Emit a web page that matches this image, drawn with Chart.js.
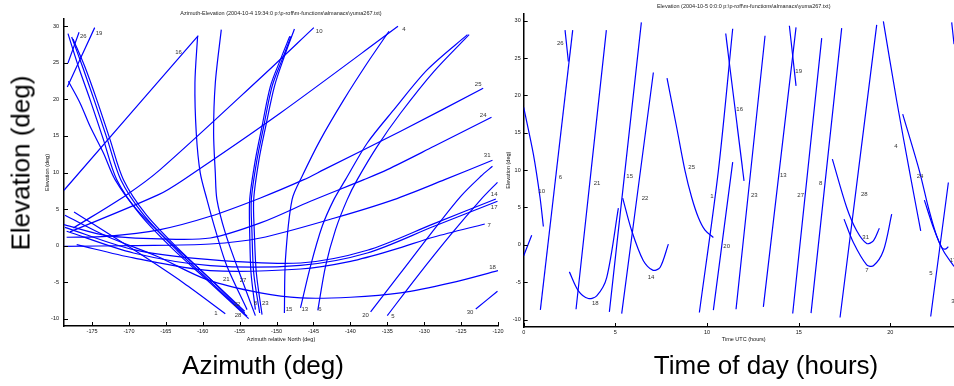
<!DOCTYPE html>
<html>
<head>
<meta charset="utf-8">
<title>Azimuth-Elevation / Elevation</title>
<script src="https://cdn.jsdelivr.net/npm/chart.js@4.4.1/dist/chart.umd.min.js"></script>
<style>
  html, body { margin: 0; padding: 0; background: #fff; }
  body { width: 954px; height: 386px; overflow: hidden; position: relative; font-family: "Liberation Sans", Arial, sans-serif; }
  .panel { position: absolute; top: 0; height: 386px; }
  #left { left: 0; width: 520px; }
  #right { left: 480px; width: 500px; }
  .big { position: absolute; font-size: 26px; color: #000; white-space: nowrap; transform: translate(-50%, -50%); }
  #bigEl { left: 21px; top: 163px; transform: translate(-50%, -50%) rotate(-90deg); }
  #bigAz { left: 263px; top: 365px; }
  #bigTime { left: 766px; top: 365px; }
</style>
</head>
<body>
<div id="left" class="panel"><canvas id="azel"></canvas></div>
<div id="right" class="panel"><canvas id="elev"></canvas></div>
<div class="big" id="bigEl">Elevation (deg)</div>
<div class="big" id="bigAz">Azimuth (deg)</div>
<div class="big" id="bigTime">Time of day (hours)</div>

<script>
/* ============================================================
   Satellite tracks - azimuth/elevation and elevation vs time
   ============================================================ */

// ---- left panel: azimuth (deg) / elevation (deg) per track ----
const azTicks = [-175, -170, -165, -160, -155, -150, -145, -140, -135, -130, -125, -120];
const elTicks = [-10, -5, 0, 5, 10, 15, 20, 25, 30];

const trackAz = [
  [-178.35, -174.64],                                                                   // 19
  [-178.26, -176.76],                                                                   // 26
  [-178.8, -160.61],                                                                    // 16
  [-177.53, -170.29, -165.77, -152.19, -144.95],                                        // 10
  [-177.99, -165.99, -162.60, -149.48, -133.55],                                        // 4
  [-178.44, -173.01, -165.77, -158.98, -152.19, -146.31, -143.60, -133.19, -122.01],    // 25
  [-178.8, -173.01, -165.77, -158.98, -152.19, -145.41, -138.17, -135.00, -128.67, -120.88], // 24
  [-178.8, -169.39, -158.98, -152.19, -142.24, -134.10, -127.22, -120.75],              // 31
  [-178.67, -169.39, -158.98, -146.76, -137.71, -128.67, -120.29],                      // 14
  [-178.44, -169.39, -158.98, -146.76, -137.71, -128.67, -120.07],                      // 17
  [-177.08, -169.39, -158.98, -146.76, -139.98, -134.10, -128.67, -121.79],             // 7
  [-178.67, -173.01, -166.22, -159.43, -152.19, -146.76, -139.98, -133.19, -126.40, -120.0], // 18
  [-123.01, -120.07],                                                                   // 30
  [-177.44, -169.39, -162.60, -156.95],                                                 // 1
  [-178.26, -176.86, -175.27, -173.46, -171.65, -168.48, -163.96, -158.98, -153.78],    // 28
  [-177.76, -176.31, -174.73, -172.92, -171.11, -168.03, -163.51, -158.53, -154.0],
  [-177.58, -176.0, -174.37, -172.56, -170.75, -167.67, -163.28, -158.53, -154.32],
  [-178.21, -176.63, -175.27, -173.46, -171.88, -168.94, -164.86, -160.34, -154.32],    // 22
  [-160.70, -161.06, -160.88, -160.34, -159.43, -158.17, -156.72, -154.0],              // 21
  [-157.49, -158.30, -158.53, -158.30, -158.08, -156.95, -155.36, -152.87],             // 27
  [-148.21, -149.48, -150.84, -151.97, -152.87, -153.64, -153.64, -153.46, -152.87],    // 8
  [-148.03, -149.25, -150.61, -151.74, -152.65, -153.42, -153.33, -153.10, -152.29],
  [-147.58, -148.94, -150.29, -151.47, -152.38, -153.10, -153.01, -152.74, -151.97],    // 23
  [-148.94, -148.80, -147.90, -146.54, -144.05, -140.88, -137.71, -134.77],             // 15
  [-146.76, -145.41, -143.82, -142.24, -140.66, -137.71, -134.10, -129.57, -124.14],    // 13
  [-144.41, -143.37, -142.01, -140.43, -139.07, -136.36, -133.19, -128.67, -123.91],    // 6
  [-137.26, -133.19, -128.67, -125.05, -122.33, -120.75],                               // 20
  [-135.0, -130.93, -126.40, -122.33, -120.07]                                          // 5
];
const trackEl = [
  [21.70, 29.82],
  [24.98, 29.18],
  [7.57, 28.72],
  [2.41, 6.97, 10.39, 22.93, 29.82],
  [1.87, 6.97, 9.02, 18.14, 30.0],
  [1.14, 1.27, 2.19, 4.01, 6.52, 9.02, 10.39, 15.64, 21.52],
  [2.87, 1.36, 0.91, 1.04, 3.10, 6.06, 9.02, 10.39, 13.58, 17.55],
  [-0.10, 0.0, 0.22, 1.04, 3.74, 6.29, 9.02, 11.67],
  [2.50, -0.55, -1.92, -2.38, -0.64, 3.01, 6.38],
  [1.96, -1.01, -2.74, -2.70, -1.01, 2.64, 6.06],
  [0.13, -1.69, -3.42, -3.20, -2.15, -0.55, 1.18, 2.96],
  [4.15, 1.27, -1.46, -4.66, -6.48, -7.16, -7.07, -6.48, -5.11, -3.42],
  [-8.67, -6.25],
  [4.60, -0.55, -5.11, -9.31],
  [29.0, 24.53, 19.97, 14.50, 9.02, 4.24, -0.55, -5.11, -9.99],
  [28.54, 24.53, 19.97, 14.50, 9.02, 4.24, -0.64, -5.34, -9.67],
  [28.27, 24.53, 19.97, 14.50, 9.02, 4.24, -0.46, -5.02, -9.22],
  [22.48, 19.51, 16.32, 12.67, 9.02, 4.92, 0.82, -3.29, -8.99],
  [28.63, 22.25, 15.41, 9.94, 6.29, 1.73, -2.83, -8.76],
  [29.54, 22.25, 15.41, 9.94, 6.29, 1.73, -2.83, -9.58],
  [28.63, 25.44, 21.79, 16.32, 11.76, 6.29, 1.73, -3.74, -8.76],
  [28.63, 25.44, 21.79, 16.32, 11.76, 6.29, 1.73, -3.74, -9.22],
  [29.64, 25.90, 21.79, 16.32, 11.76, 6.29, 1.73, -3.74, -9.44],
  [-9.22, -1.92, 6.29, 9.48, 14.50, 19.97, 24.98, 29.32],
  [-8.53, -2.83, 2.64, 6.29, 9.02, 14.04, 18.60, 24.07, 28.86],
  [-8.85, -2.83, 2.19, 6.29, 9.02, 13.58, 18.14, 23.84, 28.86],
  [-9.08, -3.74, 2.19, 6.74, 9.48, 10.85],
  [-9.58, -4.20, 1.50, 6.29, 8.66]
];

// satellite numbers written next to the left tracks
const azLabelText = ['19', '26', '16', '10', '4', '25', '24', '31', '14', '17', '7', '18', '30',
  '1', '28', '22', '21', '27', '8', '23', '15', '13', '6', '20', '5'];
const azLabelX = [-174.05, -176.18, -163.28, -144.23, -132.74, -122.69, -122.01, -121.47, -120.52, -120.52, -121.20, -120.75, -123.78,
  -158.21, -155.23, -155.36, -156.82, -154.55, -152.87, -151.52, -148.30, -146.18, -144.14, -137.94, -134.23];
const azLabelY = [29.04, 28.59, 26.44, 29.27, 29.54, 22.02, 17.78, 12.31, 6.97, 5.28, 2.78, -2.97, -9.12,
  -9.31, -9.58, -8.08, -4.66, -4.75, -7.94, -7.94, -8.76, -8.76, -8.76, -9.58, -9.67];

// ---- right panel: time UTC (hours) / elevation (deg) per pass ----
const hourTicks = [0, 5, 10, 15, 20];

const passT = [
  [0, 0.436],
  [0, 0.527, 0.891, 1.073],                          // 10
  [0.909, 2.673],                                    // 6
  [2.255, 2.436],                                    // 26
  [2.855, 4.509],                                    // 21
  [2.491, 2.982, 3.527, 3.982, 4.527, 5.164],        // 18
  [4.673, 6.418],                                    // 15
  [5.345, 7.073],                                    // 22
  [5.4, 5.891, 6.527, 7.036, 7.436, 7.891],          // 14
  [7.818, 8.345, 8.8, 9.164, 9.527, 9.891, 10.345],  // 25
  [9.582, 10.618, 11.4],                             // 1
  [10.345, 11.4],                                    // 20
  [11.018, 12.018],                                  // 16
  [11.582, 13.164],                                  // 23
  [13.073, 14.855],                                  // 13
  [14.491, 14.855],                                  // 19
  [14.673, 16.255],                                  // 27
  [15.673, 17.345],                                  // 8
  [17.255, 19.255],                                  // 28
  [16.836, 17.618, 18.164, 18.709, 19.073, 19.4],    // 31
  [17.473, 17.982, 18.709, 19.073, 19.618, 20.073],  // 7
  [19.618, 20.345, 21.073, 21.655],                  // 4
  [20.673, 21.582, 22.073, 22.491, 22.8, 22.982, 23.164], // 24
  [21.855, 22.345, 22.891, 23.473],                  // 17
  [22.2, 23.164],                                    // 5
  [23.345, 23.473]
];
const passEl = [
  [-1.47, 1.29],
  [18.39, 12.14, 6.34, 2.46],
  [-8.71, 28.75],
  [28.75, 24.55],
  [-8.62, 28.75],
  [-3.62, -6.16, -7.19, -6.83, -4.38, 4.91],
  [-8.97, 29.78],
  [-9.20, 23.08],
  [6.25, 1.88, -2.14, -3.39, -3.04, 0.09],
  [22.32, 15.71, 9.91, 6.34, 3.66, 1.96, 0.98],
  [-9.06, 9.91, 28.93],
  [-8.75, 11.07],
  [28.30, 8.57],
  [-8.62, 27.99],
  [-8.30, 29.11],
  [29.33, 21.29],
  [-9.2, 27.68],
  [-9.15, 29.02],
  [-9.73, 29.46],
  [11.47, 5.0, 1.88, 0.18, 0.54, 2.23],
  [3.44, 0.31, -2.68, -2.81, -0.80, 4.11],
  [29.91, 19.29, 9.46, 1.88],
  [17.5, 9.91, 5.0, 1.43, -0.36, -0.58, -0.27],
  [5.98, 2.32, -0.80, -2.90],
  [-9.6, 8.35],
  [29.78, 26.88]
];

const timeLabelText = ['10', '6', '26', '21', '18', '15', '22', '14', '25', '1', '20', '16', '23',
  '19', '13', '27', '8', '28', '31', '7', '4', '24', '5', '17', '30'];
const timeLabelX = [0.982, 2.0, 2.0, 4.0, 3.909, 5.782, 6.618, 6.945, 9.164, 10.273, 11.073, 11.782, 12.582,
  15.0, 14.164, 15.109, 16.2, 18.582, 18.655, 18.727, 20.309, 21.618, 22.218, 23.42, 23.5];
const timeLabelY = [7.1, 8.97, 26.96, 8.21, -7.86, 9.15, 6.29, -4.38, 10.36, 6.43, -0.22, 18.08, 6.56,
  23.21, 9.24, 6.56, 8.21, 6.70, 0.94, -3.39, 13.17, 9.15, -3.84, -2.1, -7.5];

// ------------------------------------------------------------

const FONT = '"Liberation Sans", Arial, Helvetica, sans-serif';
const smallFont = { family: FONT, size: 5.5, weight: 'normal' };

function makeTracks(xsList, ysList) {
  return xsList.map((xs, i) => ({
    data: xs.map((v, j) => ({ x: v, y: ysList[i][j] })),
    showLine: true,
    borderColor: '#0000ff',
    borderWidth: 1.2,
    pointRadius: 0,
    tension: 0.3,
    fill: false
  }));
}

// satellite numbers, placed through the chart scales
function labelPlugin(id, xs, ys, texts) {
  return {
    id,
    afterDatasetsDraw(chart) {
      const { ctx, scales: { x, y } } = chart;
      ctx.save();
      ctx.font = '6px ' + FONT;
      ctx.fillStyle = '#333';
      ctx.textAlign = 'center';
      ctx.textBaseline = 'middle';
      texts.forEach((t, i) => ctx.fillText(t, x.getPixelForValue(xs[i]), y.getPixelForValue(ys[i])));
      ctx.restore();
    }
  };
}

// matlab-style tick marks pointing into the plot
const inwardTicks = {
  id: 'inwardTicks',
  afterDraw(chart) {
    const { ctx, chartArea: a, scales: { x, y } } = chart;
    ctx.save();
    ctx.strokeStyle = '#000';
    ctx.lineWidth = 1;
    ctx.beginPath();
    x.ticks.forEach(t => {
      const p = Math.round(x.getPixelForValue(t.value)) + 0.5;
      ctx.moveTo(p, a.bottom); ctx.lineTo(p, a.bottom - 4);
    });
    y.ticks.forEach(t => {
      const p = Math.round(y.getPixelForValue(t.value)) + 0.5;
      ctx.moveTo(a.left, p); ctx.lineTo(a.left + 4, p);
    });
    ctx.stroke();
    ctx.restore();
  }
};

function axisOpts(min, max, tickValues, label, size, tickPad, titlePad) {
  const horizontal = size.height !== undefined;
  return {
    type: 'linear',
    min, max,
    bounds: 'data',
    afterBuildTicks: s => { s.ticks = tickValues.map(v => ({ value: v })); },
    afterFit: s => { if (horizontal) s.height = size.height; else s.width = size.width; },
    grid: { display: false, drawTicks: false },
    border: { display: true, color: '#000', width: 1.5 },
    ticks: { padding: tickPad, color: '#111', font: smallFont, maxRotation: 0, autoSkip: false },
    title: { display: true, text: label, color: '#111', font: smallFont, padding: titlePad }
  };
}

function baseOptions(titleText, titlePad, layoutPad) {
  return {
    responsive: true,
    maintainAspectRatio: false,
    animation: false,
    events: [],
    layout: { padding: layoutPad },
    plugins: {
      legend: { display: false },
      tooltip: { enabled: false },
      title: { display: true, text: titleText, fullSize: false, color: '#222', font: smallFont, padding: titlePad }
    }
  };
}

// left: azimuth vs elevation
const leftOpts = baseOptions('Azimuth-Elevation (2004-10-4 19:34:0 p:\\p-roff\\m-functions\\almanacs\\yuma267.txt)',
  { top: 10, bottom: 2.4 }, { left: 40, right: 22, top: 0, bottom: 40 });
leftOpts.scales = {
  x: Object.assign(axisOpts(-178.8, -120, azTicks, 'Azimuth relative North (deg)', { height: 20 }, 2, { top: 0, bottom: 3.4 }), { position: 'bottom' }),
  y: Object.assign(axisOpts(-11, 31, elTicks, 'Elevation (deg)', { width: 24 }, 5, { top: 4, bottom: 0 }), { position: 'left' })
};
new Chart(document.getElementById('azel'), {
  type: 'scatter',
  data: { datasets: makeTracks(trackAz, trackEl) },
  options: leftOpts,
  plugins: [inwardTicks, labelPlugin('azLabels', azLabelX, azLabelY, azLabelText)]
});

// right: elevation over the day
const rightOpts = baseOptions('Elevation (2004-10-5 0:0:0 p:\\p-roff\\m-functions\\almanacs\\yuma267.txt)',
  { top: 3.4, bottom: 3.3 }, { left: 20, right: 16.3, top: 0, bottom: 39 });
rightOpts.scales = {
  x: Object.assign(axisOpts(0, 24, hourTicks, 'Time UTC (hours)', { height: 20 }, 2, { top: 0, bottom: 4.7 }), { position: 'bottom' }),
  y: Object.assign(axisOpts(-11, 31, elTicks, 'Elevation (deg)', { width: 23.7 }, 3, { top: 5, bottom: 0 }), { position: 'left' })
};
new Chart(document.getElementById('elev'), {
  type: 'scatter',
  data: { datasets: makeTracks(passT, passEl) },
  options: rightOpts,
  plugins: [inwardTicks, labelPlugin('timeLabels', timeLabelX, timeLabelY, timeLabelText)]
});
</script>
</body>
</html>
